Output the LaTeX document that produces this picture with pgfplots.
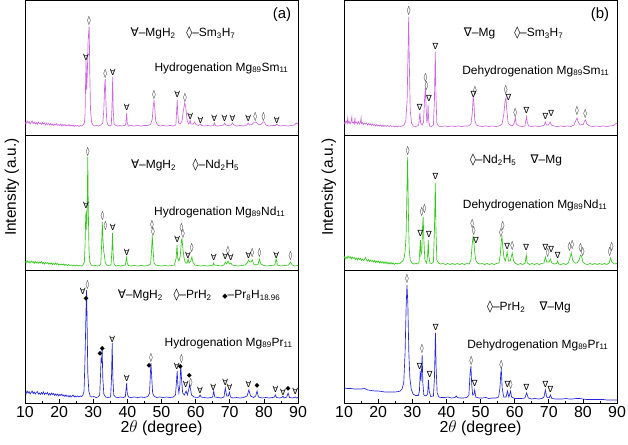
\documentclass[border=0pt]{standalone}
\usepackage{pgfplots}
\pgfplotsset{compat=1.18}
\usepackage{fontspec}
\setmainfont{Liberation Sans}
\newfontfamily\symf{DejaVu Sans}
\definecolor{smc}{RGB}{205,100,225}
\definecolor{ndc}{RGB}{50,200,25}
\definecolor{prc}{RGB}{35,35,225}
\tikzset{mk/.style={font=\symf\fontsize{8.5}{8.5}\selectfont, inner sep=0pt},
         dk/.style={font=\symf\fontsize{9}{9}\selectfont, inner sep=0pt, xscale=0.75},
         bk/.style={font=\symf\fontsize{6.5}{6.5}\selectfont, inner sep=0pt}}
\newcommand{\MH}[2]{\node[mk] at (axis cs:#1,#2) {∀};}
\newcommand{\MG}[2]{\node[mk] at (axis cs:#1,#2) {∇};}
\newcommand{\DI}[2]{\node[dk] at (axis cs:#1,#2) {◊};}
\newcommand{\BD}[2]{\node[bk] at (axis cs:#1,#2) {◆};}
\newcommand{\anf}{\fontsize{12}{14}\selectfont}
\pgfplotsset{
  panel/.style={scale only axis, width=273bp, xmin=10, xmax=90, ymin=0,
    axis line style={line width=0.8bp}, xtick=\empty, ytick=\empty, clip mode=individual,
    every axis plot/.append style={line width=0.65bp, mark=none}},
  bottompanel/.style={panel, height=133bp, ymax=133,
    xtick={10,20,...,90}, minor xtick={15,25,...,85}, xtick pos=bottom, tick align=inside,
    major tick length=3.5bp, minor tick length=2bp,
    every tick/.style={line width=0.7bp, black},
    /pgf/number format/assume math mode=true,
    ticklabel style={font=\fontsize{16}{18}\selectfont},
    xlabel={2$\theta$ (degree)},
    xlabel style={at={(axis description cs:0.5,-0.19)}, anchor=center, font=\fontsize{16}{18}\selectfont}},
  midpanel/.style={panel, height=135bp, ymax=135, ylabel={Intensity (a.u.)},
    ylabel style={anchor=center, font=\fontsize{15.5}{18}\selectfont}},
  toppanel/.style={panel, height=135bp, ymax=135},
}
\begin{document}
\begin{tikzpicture}
\useasboundingbox (0,0) rectangle (628bp,445bp);
% ---------------- (a) top: Mg89Sm11 hydrogenation
\begin{axis}[toppanel, at={(25bp,310bp)}, anchor=south west]
\addplot[smc] coordinates {(10.0,13)(10.3,11)(10.6,14)(10.9,12)(11.2,13.5)(11.5,11)(11.8,12.5)(12.1,14)(12.4,11.5)(12.7,13)(13.0,11)(13.3,12.5)(13.6,10.5)(13.9,13)(14.2,11.5)(14.5,12)(14.8,10.5)(15.1,12.5)(15.4,11)(15.7,12)(16.0,10)(16.3,12)(16.6,10.5)(16.9,11.5)(17.2,10)(17.5,11.5)(17.8,10)(18.1,11)(18.4,9.5)(18.7,11)(19.0,10)(19.3,11.5)(19.6,9.5)(19.9,10.5)(20.2,9.5)(20.5,11)(20.8,9)(21.1,10.5)(21.4,9.5)(21.7,10.5)(22.0,9)(22.3,10)(22.6,9)(22.9,10.5)(23.2,9)(23.5,10)(23.8,9)(24.1,10)(24.4,8.5)(24.7,9.5)(25.0,9)(25.4,9.5)(25.8,8.5)(26.2,9.5)(26.6,9)(27.0,10)(27.4,12)(27.6,20)(27.75,50)(27.9,75)(28.05,45)(28.25,60)(28.5,95)(28.8,109)(29.0,60)(29.2,25)(29.5,13)(29.9,10)(30.4,9)(31.0,9.5)(31.6,9)(32.2,10)(32.8,12)(33.1,25)(33.35,50)(33.5,56)(33.7,35)(33.95,14)(34.3,10)(34.8,9)(35.3,10)(35.5,30)(35.7,58)(35.85,25)(36.1,11)(36.6,9.5)(37.2,9)(37.8,9.5)(38.4,9)(39.0,9.5)(39.5,10)(39.7,18)(39.8,22)(39.95,12)(40.3,9)(41,9.5)(42,9)(43,9.5)(44,9)(45,9.5)(46,9.5)(46.8,10.5)(47.3,16)(47.6,30)(47.8,34)(48.0,28)(48.3,14)(48.8,10)(49.5,9)(50.5,9.5)(51.5,9)(52.5,9.5)(53.5,9)(54.2,10)(54.45,25)(54.6,35)(54.75,22)(55.0,12)(55.5,11)(56.0,14)(56.4,24)(56.8,32)(57.1,28)(57.5,15)(57.9,11)(58.2,12)(58.4,15)(58.6,11)(59.3,11)(59.7,13)(60.1,10.5)(60.8,9.5)(61.3,10.5)(61.5,11)(61.8,9.5)(62.5,9)(63.5,9.5)(64.5,9)(65.2,9.5)(65.5,12)(65.8,9.5)(66.5,9)(67.5,9.5)(68.2,10)(68.5,12)(68.8,10)(69.5,9.5)(70.4,10)(70.8,12)(71.2,10)(72,9)(73,9.5)(74,9)(75.0,10)(75.4,12)(75.8,10)(76.5,10.5)(77.1,12.5)(77.5,13)(78.0,12)(78.5,10)(79.3,11)(79.7,13)(80.1,13)(80.6,10)(81.5,9)(82.5,9.5)(83.4,9.5)(83.8,11)(84.2,9.5)(85,9)(86,9.5)(87,9)(88,9.5)(89,10)(89.5,12)(90,11)};
\MH{27.9}{78}\DI{28.8}{114}\DI{33.5}{61}\MH{35.7}{63}\MH{39.8}{28}\DI{47.8}{40}\MH{54.6}{41}\DI{56.9}{37}
\MH{58.4}{19}\MH{61.4}{15}\MH{65.5}{17}\MH{68.5}{17}\MH{70.8}{17}\MH{75.4}{17}\DI{77.5}{18}\DI{79.9}{18}\MH{83.8}{15}
\node[font=\fontsize{15}{17}\selectfont] at (axis cs:85.3,120) {(a)};
\node[font=\anf] at (axis cs:56.3,102) {{\symf ∀}–MgH\textsubscript{2}\hspace{0.9em}{\symf ◊}–Sm\textsubscript{3}H\textsubscript{7}};
\node[font=\anf, anchor=east] at (axis cs:88.2,67) {Hydrogenation Mg\textsubscript{89}Sm\textsubscript{11}};
\end{axis}
% ---------------- (a) middle: Mg89Nd11 hydrogenation
\begin{axis}[midpanel, at={(25bp,175bp)}, anchor=south west,
  ylabel style={at={(axis description cs:-0.048,0.615)}}]
\addplot[ndc] coordinates {(10,9)(10.3,7)(10.6,9.5)(10.9,7.5)(11.2,8.5)(11.5,7)(11.8,9)(12.1,7.5)(12.4,8.5)(12.7,6.5)(13.0,8.5)(13.3,7)(13.6,8)(13.9,6.5)(14.2,8)(14.5,7)(14.8,8.5)(15.1,6.5)(15.4,7.5)(15.7,6)(16.0,7.5)(16.3,6.5)(16.6,7.5)(16.9,6)(17.2,7)(17.5,6)(17.8,7)(18.1,5.5)(18.4,6.5)(18.7,5.5)(19.0,7)(19.3,5.5)(19.6,6.5)(19.9,5)(20.2,6)(20.5,5)(20.8,6)(21.1,5)(21.4,6)(21.7,4.5)(22.0,5.5)(22.4,4.5)(22.8,5.5)(23.2,4.5)(23.6,5)(24.0,4)(24.4,5)(24.8,4)(25.2,5)(25.6,4)(26.0,4.5)(26.5,4)(27.0,5)(27.4,8)(27.6,25)(27.8,55)(27.95,57)(28.1,40)(28.25,70)(28.4,113)(28.55,60)(28.75,20)(29.0,8)(29.4,5)(30,4)(30.6,4.5)(31.2,4)(31.8,4.5)(32.2,6)(32.45,25)(32.65,48)(32.85,30)(33.1,18)(33.3,14)(33.5,8)(33.9,5)(34.5,4.5)(35.2,5)(35.45,18)(35.65,37)(35.85,15)(36.1,6)(36.6,4)(37.3,4.5)(38,4)(38.7,4.5)(39.4,5)(39.65,10)(39.8,13)(39.95,7)(40.3,4.5)(41,4)(42,4.5)(43,4)(44,4.5)(45,4)(46,4.5)(46.8,6)(47.1,20)(47.3,34)(47.5,22)(47.8,7)(48.3,5)(49,4.5)(50,4)(51,4.5)(52,4)(53,4.5)(53.8,5)(54.3,12)(54.55,25)(54.75,12)(55.1,9)(55.5,14)(55.85,30)(56.0,31)(56.25,22)(56.6,12)(57,7)(57.5,7)(57.8,11)(58.1,7)(58.6,9)(58.9,13)(59.2,8)(59.8,5)(60.5,4.5)(61.5,4)(62.5,4.5)(63.5,4)(64.5,4.5)(65.1,5)(65.3,7)(65.5,5)(66.5,4.5)(67.5,4)(68.3,5)(68.7,8)(69.1,6)(69.5,9)(69.9,6)(70.3,7)(70.7,5)(71.5,4.5)(72.5,4)(73.5,4.5)(74.5,5)(75.1,7)(75.5,10)(75.9,8)(76.3,8)(76.6,10)(77,6)(77.7,5)(78.3,6)(78.7,11)(79.1,6)(80,4.5)(81,4)(82,4.5)(83.2,5)(83.6,11)(84.0,5)(85,4)(86,4.5)(87.3,5)(87.8,8)(88.3,5)(89,4)(90,4.5)};
\MH{27.9}{65}\DI{28.4}{118}\DI{32.7}{54}\DI{33.6}{44}\MH{35.7}{43}\MH{39.8}{18}\DI{47.2}{45}\DI{47.5}{38}
\MH{54.6}{31}\DI{55.9}{42}\DI{56.3}{36}\MH{57.8}{15}\DI{58.9}{22}\MH{65.3}{13}\MH{68.7}{14}\DI{69.5}{19}\MH{70.3}{13}
\MH{75.5}{15}\DI{76.6}{17}\DI{78.7}{17}\MH{83.6}{15}\DI{87.8}{14}
\node[font=\anf] at (axis cs:56.9,105) {{\symf ∀}–MgH\textsubscript{2}\hspace{1.4em}{\symf ◊}–Nd\textsubscript{2}H\textsubscript{5}};
\node[font=\anf, anchor=east] at (axis cs:87.3,58) {Hydrogenation Mg\textsubscript{89}Nd\textsubscript{11}};
\end{axis}
% ---------------- (a) bottom: Mg89Pr11 hydrogenation
\begin{axis}[bottompanel, at={(25bp,42bp)}, anchor=south west]
\addplot[prc] coordinates {(10,11)(10.3,9)(10.6,12)(10.9,10)(11.2,11.5)(11.5,9)(11.8,10.5)(12.1,12)(12.4,9.5)(12.7,11)(13.0,9)(13.3,10.5)(13.6,11.5)(13.9,9)(14.2,10)(14.5,8.5)(14.8,10.5)(15.1,9)(15.4,11)(15.7,8.5)(16.0,10)(16.3,9)(16.6,10.5)(16.9,8)(17.2,9.5)(17.5,8)(17.8,10)(18.1,8.5)(18.4,9.5)(18.7,7.5)(19.0,9)(19.3,7.5)(19.6,9)(19.9,7)(20.2,8.5)(20.5,7.5)(20.8,9)(21.1,7)(21.4,8)(21.7,6.5)(22.0,8)(22.3,6.5)(22.6,7.5)(22.9,6)(23.2,7.5)(23.5,6)(23.8,7)(24.1,8)(24.4,6)(24.7,7)(25.0,6)(25.4,7)(25.8,6)(26.2,7)(26.6,6.5)(27.0,8)(27.3,12)(27.55,40)(27.75,70)(27.9,95)(28.05,113)(28.2,80)(28.4,30)(28.7,12)(29.1,7)(29.6,6)(30.2,6.5)(30.8,5.5)(31.4,6)(31.9,8)(32.15,30)(32.3,45)(32.45,40)(32.6,55)(32.8,25)(33.1,9)(33.6,6)(34.3,5.5)(35.1,6)(35.35,25)(35.55,60)(35.75,25)(36.0,8)(36.5,6)(37.2,5.5)(38,6)(38.8,5.5)(39.4,6.5)(39.65,15)(39.8,20)(39.95,10)(40.3,6)(41,5.5)(42,6)(43,5.5)(44,6)(45,5.5)(46,6.5)(46.5,10)(46.75,30)(46.9,40)(47.1,28)(47.4,10)(47.9,6.5)(48.6,5.5)(49.5,6)(50.5,5.5)(51.5,6)(52.5,5.5)(53.5,6)(54.1,8)(54.4,22)(54.6,32)(54.8,18)(55.1,10)(55.4,18)(55.65,38)(55.85,25)(56.2,10)(56.7,8)(57.2,12)(57.6,8)(58.0,14)(58.2,18)(58.5,14)(58.8,8)(59.5,6)(60.5,5.5)(61.0,6)(61.3,8)(61.6,6)(62.5,5.5)(63.5,5)(64.5,5.5)(65.0,6)(65.3,12)(65.6,6)(66.5,5.5)(67.5,5)(68.3,6)(68.7,15)(69.1,7)(69.6,7)(69.9,11)(70.2,6)(71,5)(72,5.5)(73,5)(74,5.5)(75.1,7)(75.6,13)(76.1,7)(77,5.5)(77.6,7)(78.0,12)(78.4,6)(79.5,5)(80.5,5.5)(81.5,5)(82.5,5.5)(83.1,6)(83.4,8)(83.7,5.5)(84.5,5)(85.3,5.5)(85.6,7)(85.9,5)(86.7,6)(87.1,10)(87.5,5.5)(88.5,5)(89.2,6)(89.6,5)(90,5.5)};
\MH{26.9}{112}\DI{28.3}{118}\BD{27.9}{104}\BD{32.0}{49}\BD{32.7}{54}\MH{35.6}{64}\MH{39.8}{25}
\DI{46.95}{45}\BD{46.4}{37}\MH{54.5}{37}\DI{55.9}{44}\BD{55.5}{36}\BD{58.2}{27}\MH{57.1}{19}\DI{58.6}{20}
\MH{61.3}{13}\MH{65.2}{16}\MH{68.7}{21}\MH{69.9}{16}\MH{75.5}{19}\BD{78.0}{17}\MH{83.4}{14}\MH{85.6}{11}\BD{87.1}{14}\MH{89.2}{12}
\node[font=\anf] at (axis cs:61.0,108) {{\symf ∀}–MgH\textsubscript{2}\hspace{0.9em}{\symf ◊}–PrH\textsubscript{2}\hspace{0.9em}{\symf\fontsize{7}{7}\selectfont ◆}–Pr\textsubscript{8}H\textsubscript{18.96}};
\node[font=\anf, anchor=east] at (axis cs:89.4,60) {Hydrogenation Mg\textsubscript{89}Pr\textsubscript{11}};
\end{axis}
% ---------------- (b) top: Mg89Sm11 dehydrogenation
\begin{axis}[toppanel, at={(344bp,310bp)}, anchor=south west]
\addplot[smc] coordinates {(10,13)(10.3,11)(10.6,14)(10.9,12)(11.1,17)(11.2,12)(11.5,13.5)(11.8,11)(12.1,14)(12.3,18)(12.4,12)(12.7,13)(13.0,11)(13.2,17)(13.3,12)(13.6,13)(13.9,11)(14.2,13.5)(14.5,11)(14.8,12.5)(15.0,17)(15.1,11.5)(15.4,12.5)(15.7,10.5)(16.0,12)(16.3,11)(16.6,12)(16.9,10)(17.2,11.5)(17.5,10)(17.8,11)(18.1,9.5)(18.4,11)(18.7,9.5)(19.0,10.5)(19.3,9)(19.6,10.5)(19.9,9)(20.2,10)(20.5,9)(20.8,10)(21.1,8.5)(21.4,10)(21.7,8.5)(22.0,9.5)(22.4,8.5)(22.8,9.5)(23.2,8.5)(23.6,9.5)(24.0,8.5)(24.4,9)(24.8,8)(25.2,9)(25.6,8)(26.0,9)(26.5,8.5)(27.0,9)(27.6,10)(28.1,14)(28.5,35)(28.75,80)(28.95,118)(29.15,70)(29.4,25)(29.8,12)(30.3,9)(30.9,8.5)(31.5,9)(31.9,10)(32.1,18)(32.25,22)(32.45,12)(32.9,10)(33.3,13)(33.6,35)(33.85,47)(34.05,28)(34.3,12)(34.5,18)(34.65,30)(34.8,15)(35.1,9)(35.6,8.5)(36.2,10)(36.5,35)(36.75,83)(36.95,40)(37.2,12)(37.7,9)(38.5,8.5)(39.5,9)(40.5,8.5)(41.5,9)(42.5,8.5)(43.5,9)(44.5,8.5)(45.5,9)(46.5,9)(47.2,11)(47.6,22)(47.85,38)(48.05,34)(48.3,15)(48.8,10)(49.5,9)(50.5,8.5)(51.5,9)(52.5,8.5)(53.5,9)(54.5,8.5)(55.5,9)(56.3,11)(56.8,20)(57.2,34)(57.45,37)(57.7,25)(58.1,12)(58.6,10)(59.3,9)(59.9,12)(60.2,17)(60.5,11)(61.2,9)(62.2,8.5)(63.0,9)(63.3,15)(63.5,18)(63.7,13)(64.1,9)(65,8.5)(66,9)(67,8.5)(68,9)(68.7,10)(69.0,13)(69.3,10)(69.9,10)(70.4,13)(70.8,10)(71.5,9)(72.5,8.5)(73.5,9)(74.5,8.5)(75.5,9)(76.5,8.5)(77.4,10)(78.0,15)(78.3,17)(78.6,13)(79.2,10)(80.1,10.5)(80.5,14)(80.8,15)(81.1,11)(82,9)(83,8.5)(84,9)(85,8.5)(86,9)(87,8.5)(88,9)(89,9.5)(89.5,11)(90,12)};
\DI{29.0}{124}\MG{32.2}{28}\DI{33.9}{57}\DI{34.2}{49}\MG{34.9}{37}\MG{36.8}{89}\MG{47.9}{41}\DI{48.4}{44}
\DI{57.4}{45}\MG{58.2}{38}\DI{60.2}{22}\MG{63.5}{25}\MG{69.0}{19}\MG{70.7}{22}\DI{78.3}{24}\DI{80.7}{21}
\node[font=\fontsize{15}{17}\selectfont] at (axis cs:85.0,120) {(b)};
\node[font=\anf] at (axis cs:59.7,102) {{\symf ∇}–Mg\hspace{1.6em}{\symf ◊}–Sm\textsubscript{3}H\textsubscript{7}};
\node[font=\anf, anchor=east] at (axis cs:88.8,64) {Dehydrogenation Mg\textsubscript{89}Sm\textsubscript{11}};
\end{axis}
% ---------------- (b) middle: Mg89Nd11 dehydrogenation
\begin{axis}[midpanel, at={(344bp,175bp)}, anchor=south west,
  ylabel style={at={(axis description cs:-0.055,0.615)}}]
\addplot[ndc] coordinates {(10,14)(10.3,11)(10.6,13)(10.9,11.5)(11.2,14)(11.5,12)(11.8,13.5)(12.1,11)(12.4,13)(12.7,11.5)(13.0,12.5)(13.3,10.5)(13.6,12)(13.9,10)(14.2,12)(14.5,10.5)(14.8,11.5)(15.1,9.5)(15.4,11)(15.7,9.5)(16.0,10.5)(16.3,12.5)(16.6,10)(16.9,9)(17.2,10.5)(17.5,8.5)(17.8,10)(18.1,8.5)(18.4,9.5)(18.7,8)(19.0,9.5)(19.3,7.5)(19.6,9)(19.9,7.5)(20.2,9)(20.5,7)(20.8,8.5)(21.1,7)(21.4,8.5)(21.7,6.5)(22.0,8)(22.3,6.5)(22.6,8)(22.9,6)(23.2,7.5)(23.5,6)(23.8,7.5)(24.1,6)(24.4,7)(24.8,5.5)(25.2,7)(25.6,6)(26.0,7)(26.4,6.5)(26.8,8)(27.2,9)(27.6,12)(27.9,18)(28.2,35)(28.45,80)(28.65,113)(28.85,60)(29.1,22)(29.4,10)(29.9,7)(30.5,6)(31.1,6.5)(31.6,6)(32.0,8)(32.25,22)(32.4,30)(32.55,15)(32.8,18)(33.0,42)(33.2,53)(33.4,30)(33.7,10)(34.2,7)(34.5,15)(34.7,30)(34.85,14)(35.2,7)(35.7,6.5)(36.2,8)(36.5,40)(36.75,87)(36.95,40)(37.2,10)(37.7,7)(38.3,6)(39,6.5)(39.7,5.5)(40.4,6.5)(41.1,5.5)(41.8,6.5)(42.5,5.5)(43.2,6.5)(43.9,5.5)(44.6,6.5)(45.3,5.5)(46,6.5)(46.7,6)(47.2,10)(47.55,25)(47.8,33)(48.0,30)(48.3,18)(48.6,10)(49.1,7)(49.8,6)(50.5,6.5)(51.2,5.5)(51.9,6.5)(52.6,5.5)(53.3,6.5)(54,5.5)(54.7,6.5)(55.4,7)(55.8,15)(56.1,30)(56.3,33)(56.55,22)(56.9,12)(57.3,9)(57.8,18)(58.2,9)(58.7,9)(59.3,17)(59.7,9)(60.3,6.5)(61,5.5)(61.7,6.5)(62.4,5.5)(63.1,7)(63.4,15)(63.7,7)(64.4,5.5)(65.1,6.5)(65.8,5.5)(66.5,6.5)(67.2,5.5)(67.9,6.5)(68.6,7)(69.0,13)(69.4,8)(70.1,8)(70.5,11)(70.9,7)(71.6,6)(72.3,6.5)(72.6,9)(72.9,6)(73.6,5.5)(74.3,6.5)(75,5.5)(75.7,7)(76.2,12)(76.6,17)(77.0,10)(77.6,7)(78.3,7)(78.9,10)(79.3,15)(79.6,14)(80,8)(80.7,6)(81.4,5.5)(82.1,6.5)(82.8,5.5)(83.5,6.5)(84.2,5.5)(84.9,6.5)(85.6,5.5)(86.3,6.5)(87.0,5.5)(87.7,7)(88.1,12)(88.5,8)(89.2,6)(90,6.5)};
\DI{28.7}{119}\MG{32.4}{37}\DI{32.8}{58}\DI{33.6}{61}\MG{34.9}{36}\MG{36.8}{94}\DI{47.6}{46}\DI{48.0}{39}\MG{48.7}{30}
\DI{56.0}{37}\DI{56.5}{44}\MG{57.8}{24}\DI{59.3}{24}\MG{63.4}{23}\MG{69.0}{23}\DI{69.7}{17}\MG{70.7}{21}\MG{72.6}{15}
\DI{76.1}{23}\DI{76.9}{25}\DI{79.3}{22}\DI{80.0}{18}\DI{87.9}{18}\DI{88.5}{23}
\node[font=\anf] at (axis cs:60.4,110) {{\symf ◊}–Nd\textsubscript{2}H\textsubscript{5}\hspace{1.2em}{\symf ∇}–Mg};
\node[font=\anf, anchor=east] at (axis cs:88.2,65) {Dehydrogenation Mg\textsubscript{89}Nd\textsubscript{11}};
\end{axis}
% ---------------- (b) bottom: Mg89Pr11 dehydrogenation
\begin{axis}[bottompanel, at={(344bp,42bp)}, anchor=south west]
\addplot[prc] coordinates {(10,15)(11,14.5)(12,14.5)(13,14)(14,14)(15,14)(16,14.5)(17,13)(18,12.5)(19,12)(20,12)(21,11.5)(22,11)(23,11)(24,11)(25,11)(26,11.5)(26.5,12)(27,14)(27.5,20)(27.9,50)(28.2,95)(28.45,118)(28.7,100)(29.0,50)(29.3,25)(29.7,14)(30.2,9)(31,7.5)(31.8,7.5)(32.1,12)(32.35,32)(32.55,22)(32.75,35)(32.9,48)(33.1,20)(33.4,8)(34.0,7)(34.5,9)(34.75,23)(34.95,12)(35.4,6.5)(36.2,7)(36.5,25)(36.8,70)(37.0,35)(37.3,10)(37.8,6)(38.5,5.5)(39.5,5.5)(40.5,6)(41.5,5)(42.5,5.5)(42.9,7)(43.2,5.5)(44,5)(45,5)(46,5.5)(46.6,8)(46.95,30)(47.2,37)(47.4,20)(47.7,8)(48.1,9)(48.3,13)(48.6,6)(49.5,5)(50.5,5)(51.5,5.5)(52.5,4.5)(53.5,5)(54.5,5)(55.3,6)(55.7,15)(55.95,30)(56.1,33)(56.35,15)(56.8,6)(57.5,6)(57.9,12)(58.3,6)(58.5,8)(58.8,12)(59.1,6)(60,4.5)(61,4.5)(62,4.5)(63,5)(63.5,10)(64,5)(65,4)(66,4.5)(67,4)(68,4.5)(68.6,6)(69.0,13)(69.4,6)(70.1,5)(70.5,8)(70.9,4.5)(72,4)(73,4)(74,4)(75,4.5)(76,4)(77,4)(78,4.5)(79,4.5)(80,4)(81,3.5)(82,3.5)(83,3.5)(84,3.5)(85,3.5)(86,3.5)(87,3)(88,3)(89,3)(90,3)};
\DI{28.5}{124}\MG{32.2}{37}\DI{32.9}{54}\MG{35.1}{29}\MG{36.9}{76}\DI{47.3}{42}\MG{48.3}{20}\DI{56.1}{38}
\MG{57.9}{19}\DI{58.9}{18}\MG{63.5}{16}\MG{69.0}{19}\MG{70.5}{14}
\node[font=\anf] at (axis cs:64.2,96) {{\symf ◊}–PrH\textsubscript{2}\hspace{1.2em}{\symf ∇}–Mg};
\node[font=\anf, anchor=east] at (axis cs:88.5,58) {Dehydrogenation Mg\textsubscript{89}Pr\textsubscript{11}};
\end{axis}
\end{tikzpicture}
\end{document}
